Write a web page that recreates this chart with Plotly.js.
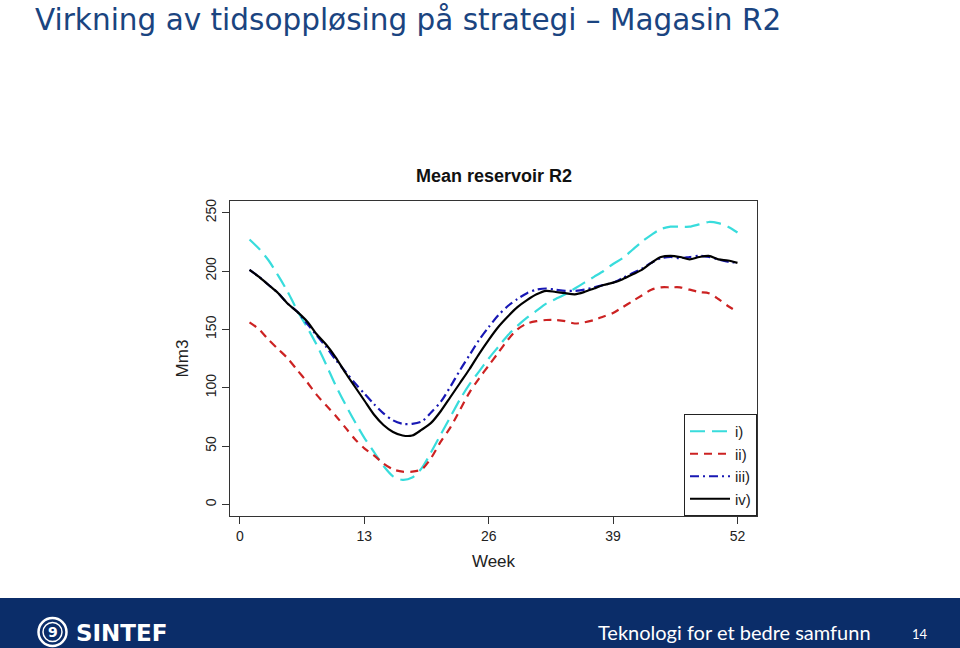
<!DOCTYPE html>
<html>
<head>
<meta charset="utf-8">
<script src="https://cdn.plot.ly/plotly-3.0.1.min.js"></script>
<style>html,body{margin:0;padding:0;background:#fff;}#chart{width:960px;height:648px;}</style>
</head>
<body>
<div id="chart"></div>
<script>
// ---- data ----
const weeks = [1,2,3,4,5,6,7,8,9,10,11,12,13,14,15,16,17,18,19,20,21,22,23,24,25,26,
               27,28,29,30,31,32,33,34,35,36,37,38,39,40,41,42,43,44,45,46,47,48,49,50,51,52];
const seriesI   = [227,219,209,196,182,166,152,137,120,102,86,71,57,45,33,24,21,23,31,45,60,75,90,103,114,125,
                   135,145,153,160,166,172,176,180,185,190,195,200,206,211,218,225,231,236,238,238,238,240,242,241,238,233];
const seriesII  = [156,150,141,133,125,115,105,94,85,76,66,56,48,42,35,30,28,28,30,40,54,66,81,96,108,119,
                   130,141,150,155,157,158,158,157,155,156,158,161,164,169,174,179,184,186,186,186,184,182,181,176,170,165];
const seriesIII = [201,195,188,181,172,165,155,145,135,124,114,104,95,86,78,72,69,69,71,79,88,101,115,128,141,152,
                   162,170,176,181,184,185,184,183,183,184,186,188,190,194,198,202,207,211,212,211,212,213,212,210,208,207];
const seriesIV  = [201,195,188,181,172,165,157,146,137,126,113,101,89,77,68,62,59,59,64,70,80,92,104,116,129,141,
                   152,161,169,175,180,183,182,181,180,182,185,188,190,193,197,201,207,212,213,212,210,212,213,210,209,207];
const seriesNames = ['i)','ii)','iii)','iv)'];
const xTicks = [0,13,26,39,52];
const yTicks = [0,50,100,150,200,250];

// ---- layout helpers: convert page pixels to paper coords ----
const PL = 230, PR = 757, PT = 201, PB = 516;
const px = p => (p - PL) / (PR - PL);
const py = p => (PB - p) / (PB - PT);

const mk = (y, name, color, dash) => ({
  x: weeks, y: y, name: name, type: 'scatter', mode: 'lines',
  line: {color: color, width: 2.2, dash: dash, shape: 'spline', smoothing: 0.8}
});

const traces = [
  mk(seriesI,   seriesNames[0], '#38dcdc', '15px,7px'),
  mk(seriesII,  seriesNames[1], '#cc2222', '8px,6px'),
  mk(seriesIII, seriesNames[2], '#1818b4', '9px,4px,2px,4px'),
  mk(seriesIV,  seriesNames[3], '#000000', 'solid')
];

const axisFont = {family: 'Liberation Sans, Arial, sans-serif', size: 14, color: '#222'};

const layout = {
  width: 960, height: 648,
  paper_bgcolor: '#fff', plot_bgcolor: '#fff',
  margin: {l: PL, r: 960 - PR, t: PT, b: 648 - PB, autoexpand: false},
  showlegend: true,
  legend: {
    x: 1, xanchor: 'right', y: 0, yanchor: 'bottom',
    bgcolor: '#fff', bordercolor: '#222', borderwidth: 1,
    font: {family: 'Liberation Sans, Arial, sans-serif', size: 15, color: '#222'},
    itemwidth: 40, tracegroupgap: 0
  },
  xaxis: {
    range: [-1.04, 54.04], tickvals: xTicks, ticktext: xTicks.map(String),
    ticks: 'outside', ticklen: 7, tickcolor: '#333',
    showline: true, mirror: true, linecolor: '#333', linewidth: 1,
    showgrid: false, zeroline: false, tickfont: axisFont,
    title: {text: 'Week', font: {family: 'Liberation Sans, Arial, sans-serif', size: 17, color: '#222'}, standoff: 12}
  },
  yaxis: {
    range: [-10, 260], tickvals: yTicks, ticktext: yTicks.map(String),
    ticks: 'outside', ticklen: 7, tickcolor: '#333', tickangle: -90,
    showline: true, mirror: true, linecolor: '#333', linewidth: 1,
    showgrid: false, zeroline: false, tickfont: axisFont,
    title: {text: 'Mm3', font: {family: 'Liberation Sans, Arial, sans-serif', size: 17, color: '#222'}, standoff: 10}
  },
  title: {
    text: 'Virkning av tidsoppløsing på strategi – Magasin R2',
    font: {family: 'DejaVu Sans, sans-serif', size: 29.5, color: '#1a4480'},
    x: 35 / 960, xanchor: 'left', xref: 'container',
    y: 1 - 20 / 648, yanchor: 'middle', yref: 'container'
  },
  shapes: [
    {type: 'rect', xref: 'paper', yref: 'paper', x0: px(0), x1: px(960), y0: py(648), y1: py(598),
     fillcolor: '#0b2d69', line: {width: 0}, layer: 'below'},
    {type: 'circle', xref: 'paper', yref: 'paper', x0: px(38.5), x1: px(66.5), y0: py(646), y1: py(618),
     line: {color: '#fff', width: 2.5}},
    {type: 'circle', xref: 'paper', yref: 'paper', x0: px(43), x1: px(62), y0: py(641.5), y1: py(622.5),
     line: {color: '#fff', width: 1.5}}
  ],
  annotations: [
    {text: '<b>Mean reservoir R2</b>', xref: 'paper', yref: 'paper', x: 0.5, y: py(176),
     xanchor: 'center', yanchor: 'middle', showarrow: false,
     font: {family: 'Liberation Sans, Arial, sans-serif', size: 18, color: '#111'}},
    {text: '<b>SINTEF</b>', xref: 'paper', yref: 'paper', x: px(74), y: py(633),
     xanchor: 'left', yanchor: 'middle', showarrow: false,
     font: {family: 'DejaVu Sans, sans-serif', size: 23, color: '#fff'}},
    {text: '<b>9</b>', xref: 'paper', yref: 'paper', x: px(52.5), y: py(632),
     xanchor: 'center', yanchor: 'middle', showarrow: false,
     font: {family: 'DejaVu Sans, sans-serif', size: 14, color: '#fff'}},
    {text: 'Teknologi for et bedre samfunn', xref: 'paper', yref: 'paper', x: px(596), y: py(632),
     xanchor: 'left', yanchor: 'middle', showarrow: false,
     font: {family: 'Lato, Open Sans, sans-serif', size: 20, color: '#fff'}},
    {text: '14', xref: 'paper', yref: 'paper', x: px(920), y: py(634),
     xanchor: 'center', yanchor: 'middle', showarrow: false,
     font: {family: 'Lato, Open Sans, sans-serif', size: 13, color: '#fff'}}
  ]
};

Plotly.newPlot('chart', traces, layout, {displayModeBar: false, staticPlot: true});
</script>
</body>
</html>
